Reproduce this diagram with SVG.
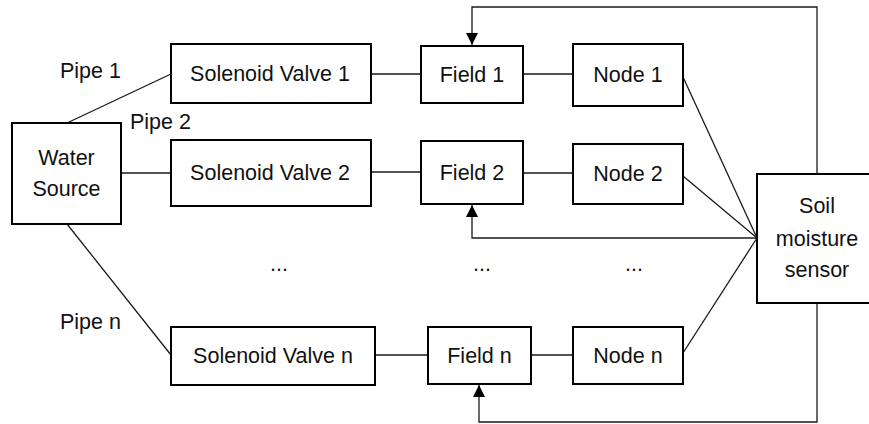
<svg xmlns="http://www.w3.org/2000/svg" width="869" height="424" viewBox="0 0 869 424">
<style>
.box{fill:#fff;stroke:#000;stroke-width:2}
.ln{fill:none;stroke:#1a1a1a;stroke-width:1.3}
text{font-family:"Liberation Sans",Arial,sans-serif;font-size:21.5px;fill:#111}
.c{text-anchor:middle}
</style>
<defs>
<marker id="ah" markerUnits="userSpaceOnUse" markerWidth="12" markerHeight="14" viewBox="0 0 12 14" refX="12" refY="6" orient="auto">
<path d="M0,0 L12,6 L0,12 Z" fill="#000"/>
</marker>
</defs>
<rect width="869" height="424" fill="#fff"/>
<g id="connectors">
<line class="ln" x1="67" y1="123" x2="171" y2="74"/>
<line class="ln" x1="121" y1="173" x2="171" y2="173"/>
<line class="ln" x1="67" y1="224" x2="171" y2="355"/>
<line class="ln" x1="371" y1="74" x2="421" y2="74"/>
<line class="ln" x1="371" y1="172" x2="421" y2="172"/>
<line class="ln" x1="375" y1="355" x2="428" y2="355"/>
<line class="ln" x1="523" y1="74" x2="573" y2="74"/>
<line class="ln" x1="523" y1="173" x2="573" y2="173"/>
<line class="ln" x1="531" y1="355" x2="573" y2="355"/>
<line class="ln" x1="683" y1="77" x2="757" y2="238"/>
<line class="ln" x1="683" y1="176" x2="757" y2="238"/>
<line class="ln" x1="683" y1="353" x2="757" y2="238"/>
<path class="ln" d="M817,174 V7 H472 V45" marker-end="url(#ah)"/>
<path class="ln" d="M757,238 H472 V205" marker-end="url(#ah)"/>
<path class="ln" d="M817,303 V422 H479 V385" marker-end="url(#ah)"/>
</g>
<g id="labels">
<text x="60" y="78">Pipe 1</text>
<text x="130" y="129">Pipe 2</text>
<text x="60" y="329">Pipe n</text>
<text class="c" x="279" y="271">...</text>
<text class="c" x="482" y="271">...</text>
<text class="c" x="634" y="271">...</text>
</g>
<g id="water-source">
<rect class="box" x="12" y="123" width="109" height="101"/>
<text class="c" x="66.5" y="165">Water</text>
<text class="c" x="66.5" y="196">Source</text>
</g>
<g id="valve-1">
<rect class="box" x="171" y="44" width="200" height="59"/>
<text class="c" x="270" y="81">Solenoid Valve 1</text>
</g>
<g id="valve-2">
<rect class="box" x="171" y="140" width="200" height="66"/>
<text class="c" x="270" y="180">Solenoid Valve 2</text>
</g>
<g id="valve-n">
<rect class="box" x="171" y="327" width="204" height="58"/>
<text class="c" x="273" y="363">Solenoid Valve n</text>
</g>
<g id="field-1">
<rect class="box" x="421" y="46" width="102" height="57"/>
<text class="c" x="472" y="82">Field 1</text>
</g>
<g id="field-2">
<rect class="box" x="421" y="141" width="102" height="63"/>
<text class="c" x="472" y="180">Field 2</text>
</g>
<g id="field-n">
<rect class="box" x="428" y="327" width="103" height="57"/>
<text class="c" x="479.5" y="363">Field n</text>
</g>
<g id="node-1">
<rect class="box" x="573" y="44" width="110" height="62"/>
<text class="c" x="628" y="82">Node 1</text>
</g>
<g id="node-2">
<rect class="box" x="573" y="144" width="110" height="60"/>
<text class="c" x="628" y="181">Node 2</text>
</g>
<g id="node-n">
<rect class="box" x="573" y="327" width="110" height="57"/>
<text class="c" x="628" y="363">Node n</text>
</g>
<g id="soil-sensor">
<rect class="box" x="757" y="174" width="120" height="129"/>
<text class="c" x="817" y="213">Soil</text>
<text class="c" x="817" y="246">moisture</text>
<text class="c" x="817" y="277">sensor</text>
</g>
</svg>
